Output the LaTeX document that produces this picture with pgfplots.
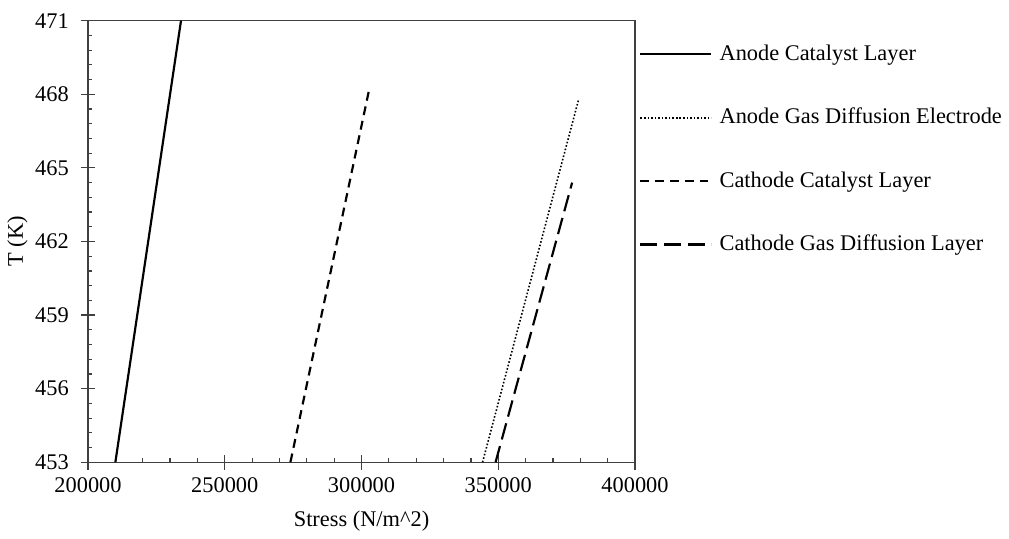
\documentclass[border=0pt]{standalone}
\usepackage{pgfplots}
\pgfplotsset{compat=1.18}
\usepackage{fontspec}
\setmainfont{Liberation Serif}
\begin{document}
\fontsize{11.35pt}{13.6pt}\selectfont
\begin{tikzpicture}
\begin{axis}[
  scale only axis,
  width=277.5pt, height=224pt,
  xmin=200000, xmax=400000,
  ymin=453, ymax=471,
  xtick={200000,250000,300000,350000,400000},
  ytick={453,456,459,462,465,468,471},
  minor x tick num=4,
  minor y tick num=4,
  xtick pos=bottom, ytick pos=left,
  tick align=inside,
  major tick length=7.5pt,
  minor tick length=2.2pt,
  major x tick style={yshift=-3.75pt},
  major y tick style={xshift=-3.75pt},
  axis line style={black!75, line width=0.6pt},
  tick style={black!75, line width=0.6pt},
  /pgf/number format/assume math mode=true,
  /pgf/number format/fixed,
  /pgf/number format/1000 sep={},
  scaled x ticks=false,
  yticklabel style={xshift=-5.8pt},
  xticklabel style={yshift=-3.75pt},
  xlabel={Stress (N/m\textasciicircum 2)},
  ylabel={T (K)},
  xlabel style={yshift=-1.5pt},
  ylabel style={yshift=-4pt},
  legend style={
    at={(1,1)}, anchor=north west, xshift=2pt, yshift=-8.5pt,
    draw=none, fill=none, inner sep=0pt,
    row sep=15.3pt,
    nodes={inner sep=3.6pt},
  },
  legend cell align=left,
  legend image code/.code={\draw[#1] (0pt,0pt) -- (36pt,0pt);},
]
\addplot[black, line width=1.1pt] coordinates {(210000,453) (234000,471)};
\addlegendentry{Anode Catalyst Layer}
\addplot[black, line width=0.8pt, dash pattern=on 0.8pt off 1.0pt] coordinates {(344250,453) (379400,467.8)};
\addlegendentry{Anode Gas Diffusion Electrode}
\addplot[black, line width=1.1pt, dash pattern=on 4.5pt off 3pt] coordinates {(274000,453) (302800,468.2)};
\addlegendentry{Cathode Catalyst Layer}
\addplot[black, line width=1.1pt, dash pattern=on 8.5pt off 3.5pt] coordinates {(349000,453) (377000,464.4)};
\addlegendentry{Cathode Gas Diffusion Layer}
\end{axis}
\path (current axis.north) ++(0,10.5pt);
\end{tikzpicture}
\end{document}
